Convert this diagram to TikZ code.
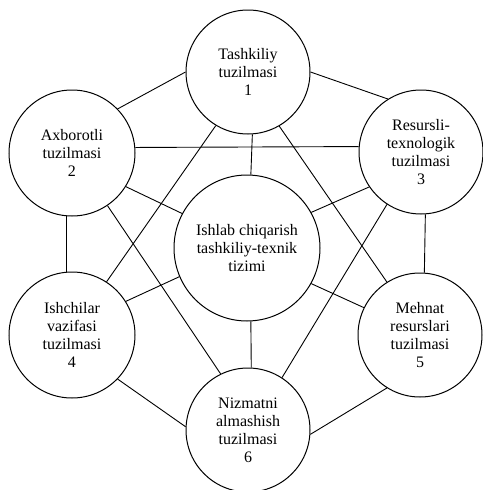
\documentclass[tikz,border=0pt]{standalone}
\usepackage{fontspec}
\setmainfont{Liberation Serif}
\begin{document}
\begin{tikzpicture}[x=1pt,y=-1pt,
  blob/.style={circle,draw,line width=1pt,inner sep=0pt,align=center,
    font=\fontsize{16}{18}\selectfont},
  link/.style={line width=0.9pt}]
\useasboundingbox (0,0) rectangle (482,490);
\node[blob,minimum size=124pt] (c1) at (248,72) {Tashkiliy\\tuzilmasi\\1};
\node[blob,minimum size=126pt] (c2) at (72,153) {Axborotli\\tuzilmasi\\2};
\node[blob,minimum size=124pt] (c3) at (421,152) {Resursli-\\texnologik\\tuzilmasi\\3};
\node[blob,minimum size=146pt] (c0) at (247,248) {Ishlab chiqarish\\tashkiliy-texnik\\tizimi};
\node[blob,minimum size=126pt] (c4) at (72,335) {Ishchilar\\vazifasi\\tuzilmasi\\4};
\node[blob,minimum size=124pt] (c5) at (420,335) {Mehnat\\resurslari\\tuzilmasi\\5};
\node[blob,minimum size=124pt] (c6) at (248,430) {Nizmatni\\almashish\\tuzilmasi\\6};
\draw[link] (c2.44) -- (c1.180);
\draw[link] (c1.0) -- (c3.122);
\draw[link] (c2.5) -- (c3.175);
\draw[link] (c1.-86) -- (c0.87);
\draw[link] (c1.239) -- (c4.57);
\draw[link] (c1.-60) -- (c5.122);
\draw[link] (c2.-32) -- (c0.152);
\draw[link] (c2.-56) -- (c6.116);
\draw[link] (c2.265) -- (c4.95);
\draw[link] (c3.214) -- (c0.29);
\draw[link] (c3.237) -- (c6.57);
\draw[link] (c3.274) -- (c5.86);
\draw[link] (c0.203) -- (c4.32);
\draw[link] (c0.-29) -- (c5.154);
\draw[link] (c0.-87) -- (c6.87);
\draw[link] (c4.-44) -- (c6.177);
\draw[link] (c5.238) -- (c6.-4);
\end{tikzpicture}
\end{document}
